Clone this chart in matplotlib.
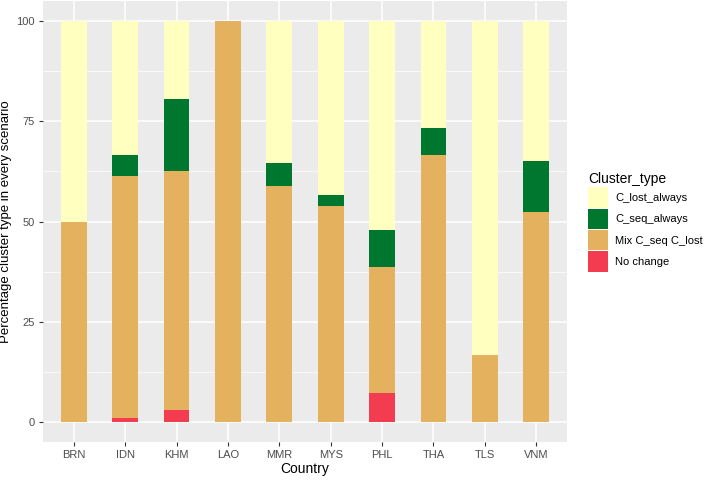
import numpy as np
import matplotlib
matplotlib.use("Agg")
import matplotlib.pyplot as plt
from matplotlib.patches import Patch
from matplotlib.ticker import MultipleLocator

countries = ["BRN", "IDN", "KHM", "LAO", "MMR", "MYS", "PHL", "THA", "TLS", "VNM"]
no_change = [0, 1.1, 3.0, 0, 0, 0, 7.1, 0, 0, 0]
mix_seq_lost = [50.0, 60.2, 59.7, 100.0, 58.8, 53.9, 31.6, 66.6, 16.7, 52.4]
seq_always = [0, 5.3, 17.8, 0, 5.7, 2.8, 9.1, 6.7, 0, 12.6]
lost_always = [50.0, 33.4, 19.5, 0, 35.5, 43.3, 52.2, 26.7, 83.3, 35.0]

series = [
    ("No change", no_change, "#F43C50"),
    ("Mix C_seq C_lost", mix_seq_lost, "#E4B15E"),
    ("C_seq_always", seq_always, "#00772F"),
    ("C_lost_always", lost_always, "#FFFFC0"),
]

plt.rcParams["font.family"] = ["Liberation Sans", "DejaVu Sans"]

fig = plt.figure(figsize=(7.06, 4.8), dpi=100)
ax = fig.add_axes([43 / 706, 38 / 480, 524 / 706, 441 / 480])
ax.set_facecolor("#EBEBEB")

x = np.arange(1, len(countries) + 1)
bottom = np.zeros(len(countries))
for name, vals, col in series:
    vals = np.array(vals)
    ax.bar(x, vals, width=0.5, bottom=bottom, color=col, zorder=3)
    bottom += vals

ax.set_xlim(0.4, len(countries) + 0.6)
ax.set_ylim(-5, 105)
ax.set_xticks(x)
ax.set_xticklabels(countries)
ax.yaxis.set_major_locator(MultipleLocator(25))
ax.yaxis.set_minor_locator(MultipleLocator(12.5))
ax.grid(True, which="major", color="white", linewidth=1.1, zorder=0)
ax.grid(True, which="minor", axis="y", color="white", linewidth=0.5, zorder=0)
ax.tick_params(which="major", colors="#333333", length=3, width=0.8, labelsize=8, labelcolor="#4D4D4D", pad=3)
ax.tick_params(which="minor", length=0)
for s in ax.spines.values():
    s.set_visible(False)

ax.set_xlabel("Country", fontsize=10, labelpad=1)
ax.set_ylabel("Percentage cluster type in every scenario", fontsize=9.5, labelpad=3)

handles = [Patch(facecolor=col, label=name) for name, _, col in series[::-1]]
leg = fig.legend(handles=handles, title="Cluster_type", loc="upper left",
                 bbox_to_anchor=(584 / 706, 1 - 168 / 480), frameon=False,
                 fontsize=8, title_fontsize=10, handlelength=1.8, handleheight=2.45,
                 labelspacing=0.08, handletextpad=0.6, borderaxespad=0)
leg._legend_box.align = "left"

fig.savefig("out.png", dpi=100)
